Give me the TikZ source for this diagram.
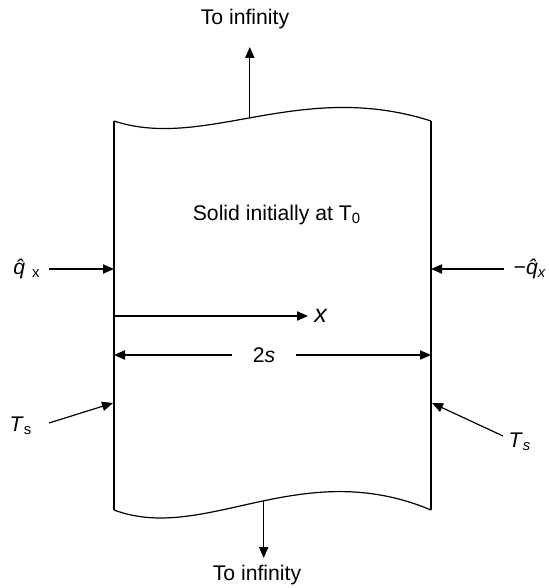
\documentclass[tikz,border=0pt]{standalone}
\usepackage{fontspec}
\setmainfont{Liberation Sans}
\usetikzlibrary{arrows.meta,positioning}

\begin{document}
\begin{tikzpicture}[x=0.5pt, y=-0.5pt,
  font=\fontsize{10.6}{12}\selectfont,
  slab/.style={line width=0.6pt},
  arr/.style={-{Triangle[length=5.5pt,width=4.6pt]}, line width=0.6pt},
  lbl/.style={inner sep=0pt}]

\useasboundingbox (0,0) rectangle (549,588);

% slab edges
\coordinate (tl) at (114,121);
\coordinate (tr) at (431,121);
\coordinate (bl) at (114,510);
\coordinate (br) at (431,510);
\draw[slab] (tl) -- (bl);
\draw[slab] (tr) -- (br);
\draw[slab] (tl) .. controls (205,151) and (300,79) .. coordinate[pos=0.475] (topmid) (tr);
\draw[slab] (bl) .. controls (205,544) and (300,455) .. coordinate[pos=0.52] (botmid) (br);

% to infinity
\coordinate (toptip) at (topmid |- 0,47);
\node[lbl] (topinf) at (245,19) {To infinity};
\draw[arr] (topmid) -- (toptip);
\coordinate (bottip) at (botmid |- 0,558);
\node[lbl] (botinf) at (257,575) {To infinity};
\draw[arr] (botmid) -- (bottip);

\node[lbl] (solid) at (277,215) {Solid initially at T\textsubscript{0}};

% heat flux
\node[lbl] (qin) at (27,269) {\textit{\^{q}}\,\textsubscript{x}};
\coordinate (qinA) at (49,269);
\coordinate (qinB) at (114,269);
\draw[arr] (qinA) -- (qinB);
\node[lbl] (qout) at (530,269) {\char"2212\textit{\^{q}\textsubscript{x}}};
\coordinate (qoutA) at (504,269);
\coordinate (qoutB) at (431,269);
\draw[arr] (qoutA) -- (qoutB);

% axis
\coordinate (orig) at (114,316);
\coordinate (xtip) at (308,316);
\draw[arr] (orig) -- (xtip);
\node[lbl, right=3pt of xtip, font=\fontsize{12.5}{14}\selectfont] (xlab) {\textit{x}};

% width
\coordinate (dimL) at (114,355);
\coordinate (dimR) at (431,355);
\node[lbl, minimum width=32pt] (twos) at (264,355) {2\textit{s}};
\draw[arr] (twos.west) -- (dimL);
\draw[arr] (twos.east) -- (dimR);

% surface temperature
\node[lbl] (tsl) at (21,426) {\textit{T}\textsubscript{s}};
\coordinate (tslA) at (49,423);
\coordinate (tslB) at (113,403);
\draw[arr] (tslA) -- (tslB);
\node[lbl] (tsr) at (520,442) {\textit{T}\textsubscript{\textit{s}}};
\coordinate (tsrA) at (503,436);
\coordinate (tsrB) at (432,403);
\draw[arr] (tsrA) -- (tsrB);
\end{tikzpicture}
\end{document}
